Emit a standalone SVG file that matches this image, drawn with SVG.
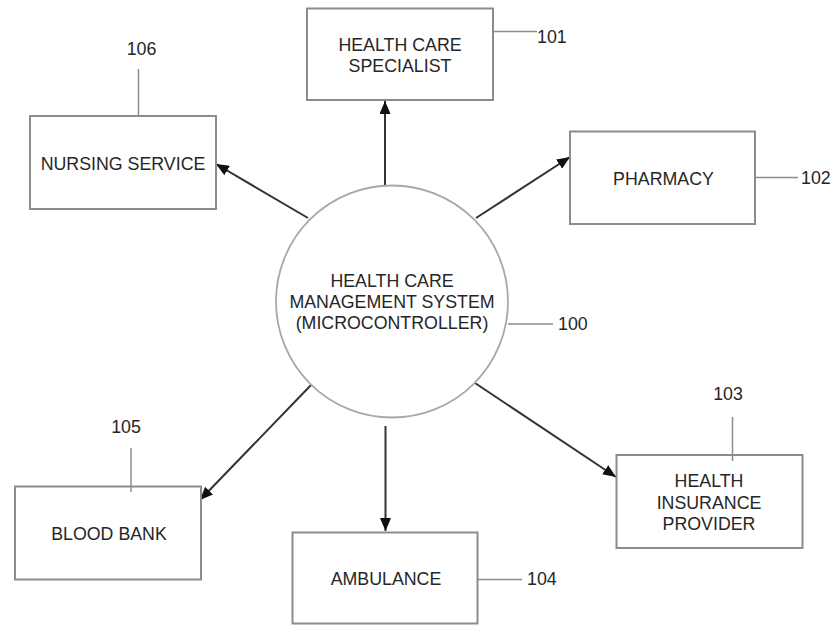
<svg xmlns="http://www.w3.org/2000/svg" width="839" height="626" viewBox="0 0 839 626">
<style>
.box{fill:#fff;stroke:#8c8c8c;stroke-width:2}
.circ{fill:#fff;stroke:#a8a8a8;stroke-width:1.8}
.t{font-family:"Liberation Sans",Arial,sans-serif;font-size:17.8px;fill:#262626;text-anchor:middle}
.num{font-family:"Liberation Sans",Arial,sans-serif;font-size:17.8px;fill:#262626}
.lead{stroke:#8c8c8c;stroke-width:1.5;fill:none}
.arr{stroke:#333;stroke-width:2;fill:none;marker-end:url(#ah)}
</style>
<defs>
<marker id="ah" markerUnits="userSpaceOnUse" markerWidth="13" markerHeight="11" refX="13" refY="5.5" orient="auto">
<path d="M0,0 L13,5.5 L0,11 z" fill="#111"/>
</marker>
</defs>
<g id="connectors">
<line class="arr" x1="385" y1="185" x2="385" y2="101"/>
<line class="arr" x1="476" y1="218" x2="570" y2="157"/>
<line class="arr" x1="308" y1="218" x2="216" y2="164"/>
<line class="arr" x1="312" y1="384" x2="200" y2="500"/>
<line class="arr" x1="385.5" y1="426" x2="385.5" y2="531"/>
<line class="arr" x1="475" y1="383" x2="616" y2="477"/>
</g>
<g id="n100">
<circle class="circ" cx="392" cy="301.5" r="116"/>
<text class="t" x="392" y="287">HEALTH CARE</text>
<text class="t" x="392" y="308">MANAGEMENT SYSTEM</text>
<text class="t" x="392" y="329">(MICROCONTROLLER)</text>
<line class="lead" x1="508" y1="324" x2="553" y2="324"/>
<text class="num" x="558" y="330">100</text>
</g>
<g id="n101">
<rect class="box" x="307" y="8.5" width="186" height="91.5"/>
<text class="t" x="400" y="51">HEALTH CARE</text>
<text class="t" x="400" y="72">SPECIALIST</text>
<line class="lead" x1="493" y1="31.5" x2="537" y2="31.5"/>
<text class="num" x="537" y="43">101</text>
</g>
<g id="n102">
<rect class="box" x="570" y="131.5" width="185" height="92.5"/>
<text class="t" x="663.5" y="185">PHARMACY</text>
<line class="lead" x1="755" y1="177.5" x2="798" y2="177.5"/>
<text class="num" x="801" y="184">102</text>
</g>
<g id="n103">
<rect class="box" x="616.5" y="455" width="186" height="93"/>
<text class="t" x="709" y="487">HEALTH</text>
<text class="t" x="709" y="508.5">INSURANCE</text>
<text class="t" x="709" y="530">PROVIDER</text>
<line class="lead" x1="732.5" y1="417" x2="732.5" y2="461"/>
<text class="t" x="728" y="400">103</text>
</g>
<g id="n104">
<rect class="box" x="292.5" y="532.5" width="185" height="91"/>
<text class="t" x="386" y="585">AMBULANCE</text>
<line class="lead" x1="477" y1="579.5" x2="522" y2="579.5"/>
<text class="num" x="527" y="585">104</text>
</g>
<g id="n105">
<rect class="box" x="15" y="486.5" width="186" height="93"/>
<text class="t" x="109" y="540">BLOOD BANK</text>
<line class="lead" x1="131" y1="448" x2="131" y2="492"/>
<text class="t" x="126" y="433">105</text>
</g>
<g id="n106">
<rect class="box" x="30" y="116" width="186" height="93"/>
<text class="t" x="123" y="169.5">NURSING SERVICE</text>
<line class="lead" x1="138.5" y1="69" x2="138.5" y2="116"/>
<text class="t" x="141.5" y="55">106</text>
</g>
</svg>
